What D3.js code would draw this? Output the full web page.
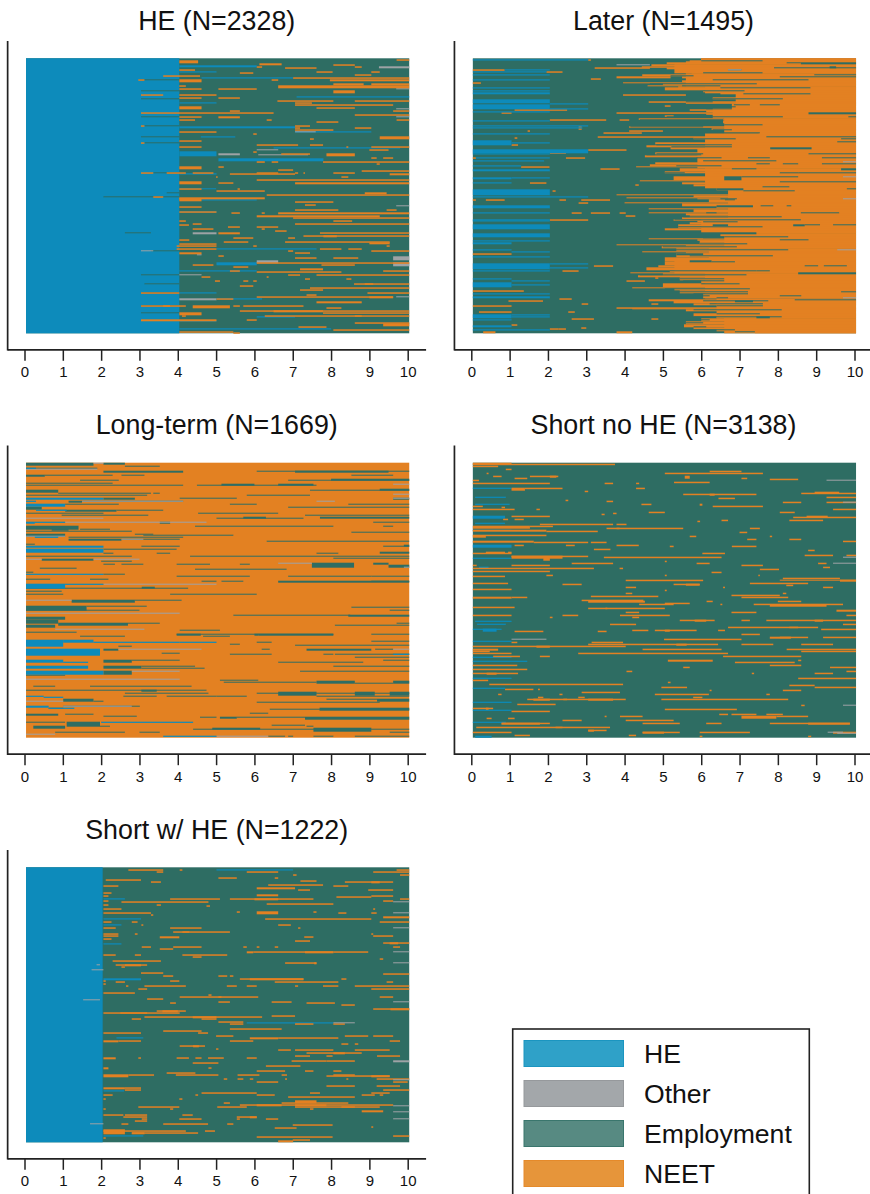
<!DOCTYPE html>
<html><head><meta charset="utf-8">
<script src="https://cdn.jsdelivr.net/npm/d3@7"></script>
<style>html,body{margin:0;padding:0;background:#fff}svg{display:block}text{font-family:"Liberation Sans",Arial,sans-serif;fill:#111}</style>
</head><body><svg id="c" width="870" height="1194"></svg>
<script>
const END = 10.04, START = 0.04;
const stateNames = ["HE","Other","Employment","NEET"];
const panelTitles = ["HE (N=2328)","Later (N=1495)","Long-term (N=1669)","Short no HE (N=3138)","Short w/ HE (N=1222)"];
const tickValues = [0,1,2,3,4,5,6,7,8,9,10];
const TOTAL_ROWS = 275;
// every spell: [row, from year, to year, rows spanned (optional)]

// ---------- HE ----------
const heBase = [[0,START,END,275,"Employment"],[0,START,4.04,275,"HE"]];
const heEmployment = [[21,3.0,4.04],[32,3.04,4.04],[40,3.04,4.04],[58,3.04,4.04],[67,3.13,4.04],[78,3.04,4.04],[84,3.13,4.04],[114,3.36,4.04],[134,3.71,4.04],[138,2.06,4.04],[174,2.62,3.3],[192,3.3,4.04],[216,3.04,4.04],[225,3.13,4.04],[234,3.04,4.04],[254,3.04,4.04],[247,3.04,4.04]];
const heHE = [[7,4.04,6.06,2],[13,4.04,5.01],[19,4.62,7.01],[38,7.1,10.04],[44,4.04,5.01],[68,4.04,7.06,2],[73,7.06,9.05],[93,4.04,5.01,5],[100,5.06,7.8,3],[115,4.04,5.01],[130,4.04,5,1],[141,4.62,6.06],[153,4.04,5.01],[190,5.01,7.62],[204,5.01,6.06,3],[212,4.04,6.06],[234,4.04,5.01],[240,5.01,6.2],[258,6.06,7.06],[262,4.04,5.01],[270,4.04,8],[89,6.5,9.8],[78,4.6,5.5]];
const heOther = [[8,9.25,10.04,2],[30,9.7,10.04],[50,9.7,10.04],[58,9.7,10.04],[91,6.06,6.62],[95,5.06,5.62,2],[96,6.1,7.4],[73,7.06,7.6],[147,9.7,10.04],[174,4.39,5.01,2],[192,3.04,3.36],[202,6.06,6.62,3],[198,9.62,10.04,4],[204,9.62,10.04,4],[216,4.04,4.62,1],[238,9.7,10.04],[240,4.04,5.01,2],[196,4.5,4.62]];
const heNeet = [[1,9.71,END],[2,4.04,4.53,3],[5,6.13,6.71,2],[6,8.06,8.62],[8,6.06,6.2],[8,8.62,8.8],[9,6.8,7.62],[11,4.04,4.45],[13,7.62,8.04],[13,9.05,9.27],[14,5.62,5.97],[16,8.62,9.05],[17,3.62,4.58],[19,7.01,END],[21,2.97,3.13],[21,4.04,4.62,3],[21,6.45,6.62],[21,7.97,END,2],[25,8.06,8.85,2],[25,9.05,END,2],[27,6.62,END,3],[27,4.04,4.21],[30,4.04,4.62],[30,5.06,6.06],[32,8.06,8.62,3],[36,3.04,3.62],[36,4.04,5.01],[39,4.04,4.62],[39,5.06,5.62],[42,6.6,8.06],[42,8.62,END],[44,7.06,7.5],[46,7.06,9.62],[48,4.04,4.62,3],[49,7.62,8.62],[52,5.36,5.62],[52,9.62,END],[54,3.04,6.5],[56,8.62,END],[58,4.04,4.62],[58,5.06,5.62,2],[61,4.04,4.45],[61,6.32,6.45],[61,9.71,END],[63,7.62,8.19],[67,3.04,3.13],[67,7.06,7.45],[69,7.06,7.19],[69,8.62,9.05],[71,7.06,8.06],[73,4.04,5.01],[75,5.97,6.06],[78,9.27,END,3],[80,7.45,7.55],[82,4.04,4.62],[84,3.04,3.13],[86,6.06,7.14],[86,7.45,7.79],[88,4.04,4.62],[88,8.4,8.45],[88,9.05,END],[91,9,9.5],[93,5.97,6.06],[95,6.7,7.45],[95,7.88,8.62,3],[99,9.05,9.19],[99,9.36,9.62],[103,6.06,6.27],[103,6.45,6.62],[103,7.79,END],[105,9.19,9.27],[108,4.04,4.62,3],[108,5.06,5.2],[111,6.62,7.01],[112,8.8,END],[114,3.04,3.36],[114,3.71,4.21],[114,4.39,4.93],[114,6.06,6.62],[114,7.06,7.14],[114,7.28,7.32],[114,8.06,8.62],[115,5.36,7.06],[115,9.53,END,2],[118,5,5.04],[118,8.27,8.45],[121,6.06,END],[123,4.04,4.62,3],[124,5.06,5.45],[124,7.06,END,2],[130,5.56,5.62],[130,4.04,4.62],[132,5.01,6.27],[134,8.88,9.45,2],[136,6.32,END],[138,3.36,3.62],[139,4.04,6.27,2],[140,4.04,4.62,3],[143,7.06,8.06],[146,7.32,7.6],[148,4.04,4.62],[151,7.06,8.19],[151,9.45,9.71],[153,4.04,5.01],[154,5.4,5.62],[154,6.19,6.27],[154,6.62,END,2],[157,6.06,9.27,2],[159,7.01,END],[162,4.04,4.21],[162,8.06,8.55],[165,7.06,END],[166,4.04,4.29],[165,4.39,4.62],[168,5.31,5.62],[168,6.06,6.62],[170,4.39,4.93],[170,6.19,6.27],[172,6.54,6.84],[174,5.06,5.62,2],[174,7.71,END],[177,7.28,END],[177,7.8,8.15,2],[179,5.45,5.97],[179,6.88,7.06],[181,4.04,4.3],[183,5.2,5.84],[183,6.8,9.53],[184,9.0,9.53,2],[185,4.04,5.01],[187,3.97,5.01],[187,5.97,6.06],[187,9.45,9.53],[190,3.97,5.01],[190,7.71,8.27],[190,8.45,8.8],[192,6.88,7.01],[192,9.05,END],[194,4.04,4.62,2],[194,7.06,7.45],[197,5.06,5.2],[199,7.06,7.62],[199,8.06,8.71],[204,6.06,END],[206,4.39,4.93],[206,7.75,8.62],[208,5.45,5.84],[210,7.19,7.79,2],[212,5.36,5.62],[212,9.36,END],[213,6.06,8.27],[216,6.88,7.19],[216,7.62,END],[218,4.62,4.85],[218,6.32,6.37],[220,7.32,7.45],[220,8.4,8.53],[222,4.97,5.1],[222,5.71,5.84],[222,5.97,6.06],[225,8.88,9.1],[225,8.6,END],[227,5.62,5.97],[229,7.45,END],[231,7.19,7.79],[234,3.04,4.04],[234,8.95,END],[236,7.36,7.62],[238,6.06,9.62],[238,9.0,9.62,2],[240,5.01,5.45],[243,7.62,8.8,2],[247,3.04,4.21],[247,3.62,3.8],[247,4.39,5.36,3],[247,5.45,5.62],[247,5.71,7.28],[249,7.88,8.27],[252,5.62,END],[252,6.5,7.79,2],[254,4.04,4.62,3],[254,7.79,END],[257,4.11,4.21],[257,6.27,END],[257,8.62,8.8],[261,3.04,5.01,2],[261,5.8,6.06],[264,8.62,END],[265,9.36,END,3],[268,7.15,7.88],[271,8.06,END],[273,4.04,5.45],[274,5.45,5.62]];

// ---------- Later ----------
const laterBase = [[0,START,END,275,"Employment"]];
const laterSolidNeet = [[0,6.0,END,3],[3,5.6,END,3],[6,5.3,END,9],[15,5.6,END,13],[28,6.1,END,7],[35,6.9,END,15],[50,6.3,END,10],[60,6.6,END,15],[75,6.1,END,15],[90,5.9,END,20],[110,6.1,END,20],[130,6.7,END,30],[160,6.0,END,15],[175,6.6,END,15],[190,6.2,END,10],[200,5.3,END,15],[215,6.1,END,25],[240,6.4,END,20],[260,6.6,END,15]];
const laterNeet = [[0,6.0,END,2],[1,3.05,3.12],[2,5.7,END,2],[4,5.1,END,2],[6,4.7,END,2],[8,4.45,END],[9,3.22,4.66],[9,5.1,END,2],[11,0.04,0.87],[11,5.5,END,3],[13,1.96,2.38],[15,5.75,END],[16,4.46,END,2],[18,3.79,5.2,2],[18,5.5,END,2],[20,3.12,3.38],[22,5.5,END,2],[24,0.04,0.25],[24,3.96,END,1],[25,5.0,END,2],[27,4.6,END,1],[28,5.4,END],[29,5.05,END,3],[32,6.05,END,2],[34,6.5,END,2],[36,3.96,5.6],[36,7.1,END,3],[39,6.3,END,2],[41,8.1,END,2],[43,1.17,1.4],[43,4.63,END],[44,5.6,END],[45,6.8,END,3],[47,5.05,5.2],[49,6.8,END,2],[51,1.13,2.5],[51,5.7,END],[52,6.13,END,2],[54,0.79,1.05],[54,3.79,END],[55,6.13,END],[57,5.05,5.28],[57,6.6,END,3],[60,4.37,END],[61,2.05,3.52],[61,3.87,4.12],[62,6.57,END,3],[66,7.6,END,2],[68,4.12,END],[68,2.8,2.88],[70,2.8,2.88],[70,6.27,END],[71,6.8,END],[72,1.47,1.53],[72,4.12,5],[74,3.45,4.45],[74,7.5,END,2],[76,7.5,END],[78,3.3,END],[79,1.13,1.2],[79,5.8,END,2],[81,6.85,END,3],[84,4.8,END,2],[86,1.05,1.22],[87,4.57,END,2],[89,5.2,END,2],[91,3.05,4.05],[91,7.8,END,3],[94,2.05,2.47],[94,4.8,END,3],[97,4.53,END,2],[99,2.47,2.97],[99,0.04,0.12],[99,6.0,END,3],[102,6.05,END,2],[104,4.8,END,2],[106,4.66,END,2],[108,1.3,2.04],[108,4.3,END,1],[110,3.37,3.87],[110,5.44,END,3],[113,5.05,END,2],[115,6.3,END,3],[118,5.28,END,4],[122,4.4,END,1],[124,1.53,1.96],[124,5.5,END,2],[126,4.28,4.37],[126,5.8,END,2],[128,6.4,END,4],[132,2.12,2.2],[132,7.1,END,4],[136,3.79,END,1],[137,5.8,END,2],[139,4.05,END,1],[140,5.9,END,1],[141,0.04,0.12],[141,0.38,0.87],[141,2.3,2.47],[141,2.87,3.62],[141,6.2,END,3],[144,2.8,3.05],[144,4.0,END,1],[145,5.5,END,3],[148,0.79,1.05],[148,6.4,END,2],[150,4.63,END,1],[151,5.8,END,3],[154,2.62,2.88],[154,3.12,3.62],[154,3.87,4.03],[154,4.63,7,1],[155,5.6,END,2],[157,4.03,4.28],[157,5.7,END,2],[159,5.5,END,2],[161,2.05,3.05],[161,5.28,END],[162,5.9,END,2],[164,5.7,END,2],[166,5.4,END,2],[168,5.4,END,2],[170,5.05,END,2],[172,6.18,END,3],[175,6.5,END,3],[178,6.6,END,2],[180,4.63,END,1],[181,5.9,END],[182,5.96,END,2],[184,5.96,END,2],[186,3.79,END,1],[187,5.6,END],[188,4.97,END,2],[190,5.35,END,3],[193,4.46,END,1],[194,5.6,END],[195,0.04,1.05],[195,5.35,END,4],[199,5.05,END,4],[203,5.05,END,4],[207,3.2,3.7],[207,4.88,END,2],[209,4.57,END,3],[212,2.38,2.8],[212,5.18,END,2],[214,4.15,END,1],[215,5.0,END,2],[217,4.35,END,2],[219,4.8,4.88],[219,5.44,END,3],[222,4.05,4.53],[222,6.0,END,3],[225,5.0,END,4],[229,4.2,END,1],[230,5.3,END,2],[232,0.04,1.37],[232,5.44,END,3],[235,6.05,END,5],[240,2.3,2.62],[241,4.63,END,2],[242,0.97,1.87],[242,5.28,END,3],[245,2.88,3.05],[245,4.7,4.88],[245,5.8,END,2],[247,0.04,1.05],[249,3.79,END],[250,4.2,END,1],[251,5.6,END,2],[253,2.53,2.7],[253,0.2,1.05],[255,5.8,END,3],[258,6.4,END,2],[260,2.62,3.2],[260,4.7,4.88],[260,6.0,END,3],[263,5.6,END,3],[266,1.05,1.2],[266,5.55,END,3],[269,2.87,3.0],[269,5.8,END,2],[270,2.05,2.28],[270,2.28,2.47],[271,6.4,END,2],[273,0.31,0.63,2],[273,3.79,4.2,2],[273,7.4,END,2]];
const laterEmployment = [[2,6.0,7.6],[4,8.6,END,2],[4,8.23,8.6],[8,9.35,9.52,2],[9,7.9,END],[11,6.7,7.05],[14,6.05,7.6],[16,8.95,END],[17,5.2,5.8],[18,8.05,END],[21,6.3,8.8],[25,4.66,7.45],[27,5.5,6.5],[29,6.5,8.85],[32,6.05,7.13],[35,7.1,8.85],[40,6.3,8.13],[43,5.6,6.3],[46,6.85,7.27],[46,7.53,8.05],[50,6.13,6.8],[54,8.8,END,2],[58,5.1,8.13],[58,9.84,END],[61,4.4,6.57,2],[66,6.6,7.6],[68,4.15,6.05],[71,6.3,6.8],[74,5.0,7.53],[78,7.7,END],[80,5.8,6.9],[80,9.65,END],[83,9.55,END],[86,4.83,6.8],[88,5.22,6.8],[89,7.8,8.88,2],[92,4.8,5.44],[95,4.83,6.05],[95,8.8,END],[96,4.57,6.0],[99,9.15,END],[99,5.88,6.53],[99,7.22,7.79],[102,6.05,7.96],[105,7.44,7.79],[105,8.13,8.53],[105,9.15,END],[107,5.35,6.53],[110,6.8,7.44],[110,9.65,END,2],[114,5.05,5.57],[114,8.05,8.53],[114,8.53,END],[116,5.27,5.96],[118,6.6,7.05,4],[118,7.05,8.53],[123,8.05,END],[128,7.6,8.3],[130,6.4,7.1,2],[130,9.8,END],[132,7.1,8.44],[140,6.5,6.93],[141,6.62,6.88],[147,6.4,7.35,2],[147,7.55,7.88],[147,8.23,8.35],[154,6.13,6.4],[154,8.6,9.6],[158,5.53,8.1],[161,5.3,8.6],[163,6.05,6.95],[166,8.4,8.7,2],[166,8.7,9.1],[166,9.44,END],[166,6.3,6.7,2],[168,5.4,7.6],[174,5.7,7.44,2],[178,6.05,6.6,2],[178,6.6,8.27],[181,8.05,8.8],[185,5.96,7.2],[188,5,6.93],[191,4.97,8.27],[195,5.35,6.05,2],[197,5.7,7.87],[202,5.7,6.27,2],[203,6.27,6.88],[207,8.7,9.05],[207,9.2,9.8],[212,5.18,7.44],[212,7.44,7.79],[214,8.53,END,2],[216,4.4,7.18],[220,5.44,6.6],[222,5.53,6.6],[225,6.0,7.0],[230,5.05,7.27],[233,5.35,7.22],[233,9.65,END],[235,5.8,7.22],[237,5.7,6.22],[237,8.05,8.61],[239,6.4,6.7],[241,8.44,9.65],[241,9.65,END],[242,6.88,7.35,2],[242,6.05,7.75],[245,6.22,7.61],[247,6.4,7.61],[251,5.8,8.1],[255,6.4,7.53],[258,5.8,8.1],[258,7.44,7.79,2],[261,5.6,6.22],[264,5.6,6.05],[268,5.8,6.13],[271,5.8,6.88],[273,6.88,7.4]];
const laterHE = [[1,0.04,3.05],[11,0.87,2.05],[13,0.04,1.96],[16,0.04,2.05],[21,0.04,2.05],[29,0.04,2.05],[32,0.04,2.05],[34,0.04,2.05,2],[41,0.04,2.05,4],[46,0.04,2.05,5],[45,2.05,3.05],[50,2.05,3.05],[53,0.04,2.05],[62,0.04,2.05],[67,0.04,3.05],[69,0.04,2.9],[75,0.04,2.05],[82,0.04,1.05,5],[84,1.05,2.05],[91,0.04,3.05,4],[95,0.04,2.05],[99,0.12,2.05],[102,0.04,1.9],[107,0.04,1.3],[111,0.04,2.05,2],[119,0.04,1.05,2],[119,1.05,2.05],[124,0.04,1.05],[131,0.04,2.05,6],[138,0.04,3.05],[147,0.04,2.05,3],[154,0.04,2.05],[161,0.04,2.05],[162,0.04,2.05],[166,0.04,2.05,5],[175,0.04,2.05,4],[182,0.04,2.05],[184,0.04,1.05,2],[191,0.04,1.05],[193,1.05,2.05],[198,0.04,2.05],[205,0.04,2.05,6],[205,2.05,3.05],[209,2.05,3.05],[212,0.04,2.05],[220,0.04,1.05],[224,0.04,1.05,5],[222,1.05,2.05],[226,1.05,2.05],[235,0.04,2.05],[238,0.04,2.05,2],[256,0.04,1.05,4],[256,1.05,2.05],[258,1.05,2.05],[261,0.04,1.05],[267,0.04,1.05,2],[271,0.04,2.05]];
const laterOther = [[6,3.79,4.66],[11,6.7,7.05],[103,9.7,END],[118,9.7,END],[140,9.7,END],[191,9.55,END],[239,9.7,END]];

// ---------- Long-term ----------
const longBase = [[0,START,END,275,"NEET"]];
const longEmployment = [[0,0.04,1.8,3],[0,2.06,2.62,2],[3,2.62,3.53],[5,0.04,1.9],[8,2.06,4.14,2],[8,6.06,10.04],[8,7.06,9.5,2],[12,0.04,0.53,2],[12,0.53,2.3],[12,2.53,3.13],[12,8.53,9.62],[17,1.45,2.46],[17,6.88,END],[16,8.0,END,2],[20,0.04,2.3],[22,0.04,4.14],[22,4.5,7.62],[21,5.14,6.0,2],[21,6.62,7.54,2],[27,0.04,0.88,3],[27,7.45,END],[26,9.27,END,2],[30,0.88,3.3],[30,3.36,3.53],[32,0.04,3.2],[32,5.8,7.45],[35,2.06,2.88,2],[35,4.05,5.54],[35,9.62,END,2],[38,1.15,1.5,2],[38,1.5,4.14],[41,1.06,2.46],[41,5.36,6.06],[41,8.45,END],[44,0.04,0.45,3],[44,6.88,END],[47,0.45,1.06],[47,1.06,2.4,2],[47,2.4,3.62],[50,0.04,2.06],[50,4.53,6.62],[52,0.97,3.23],[52,7.32,END],[55,5.01,7.28],[54,5.71,6.3,2],[54,7.71,END,2],[59,3.53,3.8,2],[59,9.1,END],[63,0.04,1.41,4],[63,4.45,8.06],[63,9.36,9.62],[66,0.71,1.15,2],[66,1.45,2.23],[68,0.04,2.8],[69,8.53,END],[71,0.04,1.06,3],[71,2.88,3.36],[72,3.1,5.45],[74,1.15,4.14],[76,1.15,2.53,2],[76,2.53,3.1],[76,3.1,4.05],[78,6.32,END],[81,0.04,0.27],[83,3.05,4.05],[83,9.36,END],[82,9.9,END,2],[86,2.06,3.97],[90,2.06,2.32],[90,3.45,3.8],[90,7.62,8.19],[89,9.27,END,2],[93,0.04,2.8],[93,4.32,END],[95,8.06,END],[96,0.45,1.8,2],[98,2.0,2.8],[101,2.06,2.36],[101,2.53,3.1],[101,3.97,4.84],[101,5.62,5.88],[100,7.5,8.6,5],[100,9.1,9.5,2],[102,9.5,END,3],[105,0.4,1.36],[106,4.45,6.84],[109,0.04,0.23],[111,2.06,2.62],[113,3.97,5.88],[113,6.88,9.05],[113,9.05,END],[116,0.04,0.67],[116,1.71,2.19],[118,4.62,5.01],[118,9.05,END],[118,6.62,END,2],[118,5.14,5.71],[123,0.04,0.71],[125,0.04,4.27],[124,3.06,3.4,2],[128,0.04,0.97],[131,0.04,1.01],[131,3.8,6.06],[137,1.23,2.88,3],[137,2.88,4.1],[143,0.04,1.62,5],[143,1.62,3.19],[144,8.53,END],[147,0.04,3.0],[147,9.53,END],[152,5.45,8.5],[152,8.45,END,2],[154,0.04,1.06,3],[157,0.04,0.88,4],[160,0.88,2.7,3],[160,2.7,3.53],[160,9.71,END],[162,8.1,END],[162,0.04,0.8,3],[169,0.04,1.36],[171,3.97,8.06],[171,3.97,4.6,2],[171,6.0,6.1,2],[171,6.1,8.06,2],[171,9.05,END],[167,4.05,5.1],[173,4.66,5.36],[173,1.45,2.62],[181,5.36,5.62],[179,6.06,6.45],[182,7.06,END],[178,9.05,END],[183,2.45,2.8],[186,2.06,2.45,2],[186,6.19,6.4],[186,7.36,9.05,2],[186,9.15,9.62],[191,5.36,6.45],[191,7.8,8.06],[191,8.1,END],[190,3.58,4.05],[194,8.62,END],[197,2.06,2.8,3],[197,2.8,4.05],[197,9.36,END],[199,6.62,8.84],[203,2.06,3.05,3],[203,3.05,4.45],[203,8.06,END],[205,3.05,4.7],[208,7.19,END],[208,2.06,2.8,4],[212,0.04,1.06],[217,5.1,6.1],[219,5.2,7.62],[218,7.62,8.62,3],[218,9.62,END,3],[220,8.62,9.62],[223,0.23,0.8],[223,1.71,4.36],[227,0.04,4.75],[227,3.05,3.45,2],[230,2.62,4.8],[230,6.06,END],[229,6.62,7.62,4],[229,8.62,9.14,4],[229,9.53,END,4],[233,2.58,3.45],[233,3.71,5.01],[233,5.01,5.8],[233,7.62,END],[236,1.01,1.8,3],[236,7.88,9.2],[236,9.2,END,3],[238,1.8,2.06],[239,6.06,9.27],[245,0.63,1.01],[243,1.01,3.01],[246,6.4,END],[245,7.7,END,3],[250,5.88,6.36],[251,0.04,0.88,2],[251,1.06,1.8],[253,2.06,2.93],[254,4.58,5.01],[254,5.1,5.54,2],[254,5.54,7.32],[254,7.32,END,3],[259,1.1,1.97,5],[259,0.04,1.06],[263,0.23,1.06,3],[263,1.97,2.23],[262,6.45,7.32],[263,7.36,7.54],[266,4.4,END],[265,4.9,6.15,2],[265,7.54,9.05,4],[269,0.8,2.62],[269,3.0,3.53],[269,9.53,END],[273,6.36,6.8],[273,6.88,7.01],[273,7.54,8.06],[273,8.62,END]];
const longHE = [[5,0.04,0.3],[35,0.04,2.06,2],[38,0.04,0.3],[41,0.04,1.06,3],[47,0.3,1.1],[59,0.04,0.27,2],[59,0.27,1.06],[74,0.27,0.88],[83,0.04,2.06,2],[86,0.04,2.06,4],[111,0.04,2.06],[121,0.04,1.06,5],[121,1.06,2.06],[177,0.04,1.01,7],[177,1.01,1.8,3],[179,1.8,4.05],[179,4.05,5.01],[186,0.04,1.97,7],[191,9.62,END],[197,0.04,1.01,3],[199,1.01,1.66],[203,0.04,1.66,3],[208,0.04,2.06,4],[233,0.04,0.5],[234,0.5,1.01],[243,0.04,0.63,2],[245,0.63,1.3],[259,2.0,4.4],[273,3.62,5.01]];
const longOther = [[0,1.8,2.06],[6,0.04,1.9],[35,9.62,END],[31,9.62,END,1],[21,9.62,END],[38,1.5,4.14],[38,7.62,8.1],[55,0.04,2.06],[59,1.06,4.75],[73,0.04,1.06],[76,2.53,3.1],[100,6.62,7.5],[96,0.04,0.45],[96,1.8,3],[104,9.9,END],[121,2.06,5.01],[137,0.04,1.23],[150,0.04,4.05],[166,0.8,3.13],[186,2.45,4.62],[186,9.62,END],[208,2.8,4.05],[216,0.04,4.05],[238,0.04,1.01],[243,1.01,2.8],[271,0.04,0.8],[273,5.01,6.36]];

// ---------- Short no HE ----------
const noheBase = [[0,START,END,275,"Employment"]];
const noheNeet = [[1,0.04,3.75],[0,0.04,1.05,2],[3,0.04,0.7],[6,0.9,1.05],[8,6.22,7.05],[10,5.05,7.61],[10,0.4,0.45],[13,0.57,0.79],[13,1.53,2.27],[13,2.05,2.22,2],[13,5.57,5.7,3],[15,1.13,1.46],[15,7.05,7.2],[16,7.79,8.53],[17,0.04,0.2],[19,5.29,6.22],[20,0.04,2.05],[20,3.48,3.7],[20,4.3,4.38],[25,1.05,1.4,3],[25,1.4,2.38],[25,4.3,4.53],[28,2.96,3.05],[29,8.96,9.6],[30,8.61,END],[31,5.53,7.44],[31,6.22,6.35,2],[34,9.27,END],[35,6.45,6.88],[37,2.46,2.53],[38,3.53,3.7],[39,8.13,8.61],[39,9.27,END],[41,4.44,4.7],[41,5.96,6.03,2],[43,0.04,0.3],[43,6.3,7.61],[44,0.79,0.88],[46,0.04,1.13],[46,1.7,1.79],[46,9.44,END],[49,4.63,5.05],[49,8.05,8.44],[50,3.7,3.79],[51,3.4,3.48],[53,1.05,2.05],[53,8.75,9.3],[54,8.4,END],[56,1.13,1.37],[56,0.83,0.96],[57,8.3,9.18],[57,6.53,6.7],[58,5.9,5.97],[61,1.79,3.7],[61,3.79,4.05],[63,0.04,1.53,3],[63,1.53,2.13],[65,3.53,5.53],[65,3.79,3.87],[65,7.27,7.53],[67,0.04,1.96,2],[68,1.96,3.3],[69,7.0,7.2],[72,0.04,1.96],[73,0.04,0.38,2],[73,5.7,5.87],[73,7.79,7.85],[76,7.2,7.44],[76,8.3,8.61],[78,0.04,1.63,2],[78,9.7,END],[79,1.63,3.05],[79,3.12,3.53],[82,2.47,2.7],[82,3.79,4.37],[82,1.13,1.37],[83,6.8,7.44],[83,5.18,5.28],[86,3.2,3.63],[87,8.79,8.96],[89,0.38,0.88],[89,0.96,1.05],[90,0.04,1.05],[90,6.03,6.62],[92,8.7,9.44],[92,9.79,END],[93,1.05,3.05],[93,1.05,2.38,3],[94,3.46,6.53],[95,1.88,2.05,3],[98,5.05,5.1],[100,2.62,3.7],[100,5.88,6.22],[100,9.05,9.27],[102,0.04,0.14],[102,1.05,2.05],[102,7.05,7.61],[104,9.18,9.36],[105,0.04,3.2],[105,3.87,3.96],[106,7.53,8.03],[108,0.04,2.05],[109,6.27,6.53],[112,1.96,2.13],[112,5.05,5.1],[112,7.49,7.53],[113,0.04,0.88],[115,8.13,9.62],[117,4.03,6.05],[117,8.05,END,1],[117,9.62,END,2],[120,0.04,0.96],[120,7.27,8.79],[121,2.38,2.88],[121,5.28,5.96],[121,5.6,5.96,2],[122,8.22,8.4],[124,4.03,4.3],[124,9.18,9.44],[124,6.57,6.62],[126,0.04,1.05],[127,5.05,5.1],[130,4.03,4.2],[130,8.13,8.22],[132,6.79,8.05],[133,3.12,4.88],[134,0.04,1.05,2],[134,1.05,1.46],[134,7.05,8.27],[137,2.88,4.49],[138,3.05,4.53,2],[138,6.14,6.3],[138,8.0,8.61],[140,5.05,5.7],[141,4.38,5.28],[141,6.5,6.55],[141,7.37,9.7],[142,7.79,9.27,2],[144,0.04,1.13],[145,3.05,5.05],[145,3.5,3.55],[147,9.53,END,2],[149,4.03,4.38],[149,6.79,7.44],[152,2.38,2.79],[152,3.88,5.18],[152,9.79,END],[152,0.04,1.05],[154,4.2,4.38],[154,2.05,2.12],[157,5.44,6.35],[157,5.83,6.13,2],[157,7.05,7.27],[157,7.7,END],[157,8.96,9.18,2],[161,3.62,4.3],[161,9.7,END],[164,6.7,9.05],[164,8.3,8.53],[166,9.13,END],[167,4.2,4.62],[167,4.79,5.88],[167,5.05,5.18,2],[167,6.44,6.62],[168,1.13,1.88],[168,3.3,3.53],[171,7.05,7.53],[174,8.05,8.79],[174,7.79,8.34,2],[174,9.18,END],[176,5.03,7.05],[179,1.05,1.2],[179,3.14,3.96],[181,3.05,6.44],[181,5.35,5.62,2],[181,7.05,7.88],[181,8.61,9.44],[183,0.04,4.03],[183,1.7,2.05,2],[186,0.04,0.7,2],[186,4.47,6.53],[186,8.23,END],[188,0.04,0.48],[188,8.61,END],[190,0.04,1.05],[190,2.79,6.7],[193,0.57,1.27],[193,1.79,2.05],[193,6.57,8.61],[197,5.13,6.3,2],[197,8.53,8.61],[199,6.88,8.44],[202,0.04,1.2],[202,7.79,8.61],[204,9.36,END],[204,5.53,5.7],[206,0.04,1.46],[208,4.05,4.2],[208,9.79,END],[210,0.04,1.22],[210,0.4,0.66,2],[210,7.32,7.38],[210,8.96,9.44],[215,8.53,END],[217,0.04,0.44],[219,5.13,5.2],[221,0.47,3.96],[222,8.3,8.96],[224,4.96,5.63],[224,8.96,END],[226,0.88,1.62],[226,1.74,1.79],[227,8.13,8.61],[227,6.22,6.27],[229,2.88,3.88],[231,0.7,0.79],[231,4.79,6.2],[231,2.3,2.38],[231,7.7,7.79],[234,1.74,1.88],[234,2.79,2.96],[234,5.79,6.03],[236,1.46,4.03],[236,1.62,2.05,2],[236,3.05,3.7,2],[236,4.96,8.27],[236,2.4,2.5],[241,1.2,2.2],[242,8.61,8.7],[245,0.04,0.57],[245,0.38,0.45,2],[246,5.05,6.93],[248,1.05,2.05],[251,6.47,6.7],[251,6.79,7.44],[251,7.7,8.13],[253,3.88,4.47],[253,7.05,7.96,3],[253,7.96,8.79],[253,3.48,3.53],[255,0.4,0.53],[255,0.96,1.13],[257,4.03,5.28],[257,2.38,2.88],[260,0.79,2.05],[260,0.79,1.79,2],[260,4.47,5.44],[260,6.13,6.53],[260,7.79,9.88],[260,8.79,9.88,2],[264,0.13,3.62],[264,2.2,2.38],[267,3.05,3.53],[267,3.05,3.2,2],[269,0.04,1.05],[269,4.47,5.44],[269,4.47,5.03,2],[269,5.96,7.27],[269,9.44,END,2],[272,1.13,1.53],[272,4.11,4.3],[273,5.96,6.03],[273,8.79,8.87]];
const noheHE = [[25,0.04,1.05],[34,0.1,0.9],[41,0.1,1.0],[53,0.04,0.88,3],[60,0.1,0.88],[67,0.04,1.05],[82,0.04,1.05,3],[95,0.04,1.05],[104,0.2,0.45,2],[158,0.1,1.05],[161,0.15,0.9],[166,0.04,0.79],[166,0.3,0.66,3],[178,0.04,1.05],[194,0.04,1.05],[198,0.04,1.46],[215,0.04,1.05],[225,0.04,0.88],[239,0.04,1.05],[247,0.04,1.05],[259,0.04,0.9],[273,0.1,0.53,2]];
const noheOther = [[17,9.27,END],[39,9.7,END],[94,9.7,END],[100,9.44,END],[176,1.05,1.96],[242,9.7,END],[269,9.3,9.7],[270,9.55,END]];

// ---------- Short w/ HE ----------
const swBase = [[0,START,END,275,"Employment"],[0,START,2.04,275,"HE"]];
const swNeet = [[2,2.71,3.62],[2,4.05,4.12],[2,9.71,END],[4,3.45,3.62],[4,5.8,6.62],[4,9.1,END],[7,9.8,END],[7,7.01,7.1],[10,5.06,5.54],[10,6.53,6.62],[12,2.12,3.04],[13,7.2,7.62],[14,3.3,3.56],[14,8.36,9.62],[14,9.05,9.27,2],[17,6.36,7.79],[18,2.06,2.45],[18,8.06,8.45],[20,6.06,7.06,2],[22,7.14,7.45],[22,8.97,9.62],[25,2.06,2.27],[27,6.06,6.62,2],[28,2.06,2.19],[28,9.05,9.62],[29,8.14,9.05],[31,3.8,5.1],[31,5.36,7.54],[31,6.0,6.62,2],[31,9.8,END],[33,2.06,2.19],[33,9.36,9.62],[34,2.53,4.8],[36,6.32,8.06],[37,3.45,3.56],[37,2.06,2.19],[38,4.75,4.84],[41,2.06,2.53],[41,9.1,9.15],[44,6.06,6.62,3],[44,5.54,5.62],[44,7.54,7.62],[45,2.06,3.3],[45,8.19,8.4],[45,9.05,9.19],[47,3.3,3.36],[49,9.36,END,2],[51,6.28,9.05],[54,2.06,2.27],[54,2.8,2.95],[54,9.27,END],[57,6.62,6.95],[57,3.05,3.1],[60,2.06,2.38],[60,3.8,4.62],[60,7.14,7.2],[64,4.12,5.36],[64,3.88,4.3],[66,2.06,2.45],[66,2.88,2.95],[66,9.05,9.1],[68,9.1,9.62],[68,2.06,2.45],[69,3.53,4.04,2],[69,7.3,7.54],[71,2.06,2.27],[73,7.06,7.45],[75,9.36,END],[75,9.53,9.75,2],[79,3.06,3.3],[79,3.88,4.62],[79,5.71,5.8],[79,6.06,6.13],[79,6.53,6.62],[79,9.62,9.8],[81,3.53,3.88],[84,5.8,5.97,2],[84,5.97,8.06],[84,7.32,8.06,2],[84,8.06,8.97],[87,2.06,2.38],[87,4.12,5.29],[87,2.88,3.04],[89,4.39,4.62],[91,9.27,9.36],[93,2.3,3.56],[95,6.8,7.62],[95,7.56,7.62,2],[97,2.38,3.2],[97,2.62,3.04,2],[99,2.53,2.62],[105,3.04,3.62],[106,9.36,END],[108,5.06,5.29],[108,5.36,5.45],[108,3.62,3.88],[111,5.62,7.28],[111,5.88,7.28,2],[111,8.27,8.4],[113,2.06,2.12],[113,3.8,4.04],[114,2.38,2.62],[114,6.53,8.19],[114,9.45,9.62],[116,2.06,2.12],[118,2.65,2.71],[118,3.13,4.21],[118,5.28,5.54],[118,5.8,6.06],[118,7.06,7.14],[118,7.79,8.19],[118,8.62,END],[121,2.97,3.2],[121,9.05,END],[125,2.06,2.88],[127,4.8,4.88],[129,4.05,6.1],[129,5.06,5.14],[129,9.27,9.62],[131,3.2,3.62],[134,5.06,5.36],[134,6.45,6.97],[135,7.36,8.1],[135,3.8,3.95],[137,8.27,8.62],[141,9.1,END],[141,9.55,END,2],[143,3.45,4.21],[143,3.6,4.0,2],[145,2.06,4.05],[145,2.5,3.2],[148,6.45,7.06],[149,3.13,6.2],[149,4.39,5.01,2],[151,2.8,3.04],[151,4.62,5.01],[154,5.06,5.71],[156,5.36,5.71],[156,7.06,7.54],[156,8.06,8.36],[161,5.36,6.71],[163,3.62,4.62],[165,2.06,3.04],[165,4.53,4.79],[168,8.36,8.97],[168,9.1,9.62],[168,5.0,5.45],[170,5.88,6.62,2],[170,6.62,8.19],[173,2.06,2.45,2],[173,2.45,3.04],[173,5.36,5.97],[173,9.53,9.8],[176,8.27,8.45],[176,8.62,8.71],[178,4.05,4.71],[178,4.4,4.55,2],[181,5.0,5.06],[182,6.62,6.95],[182,7.06,8.06],[182,8.62,9.53],[185,7.36,8.8],[185,8.06,8.36,2],[188,7.06,7.45],[188,7.88,8.04],[188,9.2,9.8],[190,2.06,2.38,2],[190,2.97,3.04],[190,3.97,4.29],[190,4.46,4.62],[190,4.79,5.2],[190,5.8,6.06],[193,6.97,7.88],[193,7.88,8.62],[195,4.39,5.06],[198,6.3,7.2],[200,2.06,2.19,2],[200,4.8,4.88],[203,6.06,6.8],[203,7.32,7.54],[203,8.06,8.27],[205,3.71,4.46],[207,2.06,2.71,3],[207,2.71,3.38],[207,3.95,5.06],[207,5.56,6.13],[207,6.71,6.85],[207,8.06,8.62],[208,7.88,9.53],[208,9.05,9.53,2],[211,5.2,5.29],[211,5.56,5.71],[211,5.88,5.97],[211,6.8,6.85],[211,8.4,8.45],[211,9.19,END],[214,6.06,6.62],[214,9.62,10],[218,7.88,8.62],[218,9.19,9.8],[220,2.06,2.62,2],[220,2.62,3.04],[222,2.62,3.04],[222,9.36,END],[225,4.62,6.06],[225,7.45,7.71],[225,9.05,9.53],[227,2.06,2.3],[227,4.46,4.53],[227,6.06,6.53],[227,8.8,9.14],[227,9.27,9.36],[229,6.88,8.62],[231,2.06,2.12],[231,4.04,4.12],[233,7.06,7.62,3],[235,5.2,5.36],[235,6.71,8.45],[237,5.62,9.62],[237,6.06,6.71,2],[237,7.06,7.88,2],[239,2.97,4.04],[239,5.03,5.8],[239,8.27,8.62],[239,7.06,9.27],[241,2.06,2.12],[241,3.8,3.88],[241,7.45,7.54],[243,8.8,9.36,2],[247,2.06,2.58],[247,2.62,3.2],[247,4.12,4.39],[249,2.58,3.2],[249,5.54,6.06],[249,5.88,6.06,2],[251,3.06,3.2],[251,4.04,4.62],[251,5.54,5.62],[251,6.3,6.62],[253,2.88,3.2],[256,2.53,2.71],[256,3.62,4.79],[256,5.29,5.45],[257,7.0,8.04],[259,9.05,9.1],[260,6.53,7.1],[263,2.06,4.21],[262,2.06,2.62,5],[263,4.71,4.97],[265,2.8,4.53],[265,2.8,3.13,2],[268,9.62,END],[269,6.06,8.04],[270,2.06,2.12],[272,7.0,7.45],[273,6.62,7.01,2]];
const swHE = [[2,5.01,7.01],[31,2.06,2.62],[51,2.06,3.04],[57,2.06,2.53],[76,2.06,2.53],[111,2.06,3.04,2],[155,5.8,8.06],[170,2.4,3.1],[223,2.06,2.6],[268,2.06,3.1]];
const swOther = [[34,9.62,END],[45,9.62,END],[60,9.62,END],[84,9.62,END],[95,9.62,END],[134,9.62,END],[155,8.06,8.62],[193,9.62,END,2],[238,9.62,END],[244,9.62,END],[251,9.62,END],[256,1.71,2.06],[102,1.75,2.06],[97,1.88,1.97],[212,9.62,END],[132,1.53,1.97]];

const panelSpells = [
  {base:heBase, layers:[["Employment",heEmployment],["HE",heHE],["Other",heOther],["NEET",heNeet]]},
  {base:laterBase, layers:[["NEET",laterSolidNeet],["NEET",laterNeet],["Employment",laterEmployment],["HE",laterHE],["Other",laterOther]]},
  {base:longBase, layers:[["Employment",longEmployment],["Other",longOther],["HE",longHE]]},
  {base:noheBase, layers:[["HE",noheHE],["NEET",noheNeet],["Other",noheOther]]},
  {base:swBase, layers:[["HE",swHE],["NEET",swNeet],["Other",swOther]]}
];

const colors = {HE:"#0b8bbb",Other:"#9ea3a5",Employment:"#2f6d64",NEET:"#e38122"};
const thinRow = {HE:1.2,Other:1,Employment:1,NEET:1.5};
const legendColors = {HE:"#2fa1c8",Other:"#a3a7aa",Employment:"#578a82",NEET:"#e6953a"};
const legendEdges = {HE:"#1b95c0",Other:"#96999c",Employment:"#3a766d",NEET:"#e58a2a"};
const layout = [
  {x0:24.5,top:58.3},{x0:471.3,top:58.3},
  {x0:24.5,top:462.7},{x0:471.3,top:462.7},
  {x0:24.5,top:867.3}
];

const svg = d3.select("#c");
const defs = svg.append("defs");
defs.append("filter").attr("id","soft").attr("x","-2%").attr("y","-2%").attr("width","104%").attr("height","104%")
  .append("feGaussianBlur").attr("stdDeviation",0.3);

panelTitles.forEach((title,i)=>{
  const L = layout[i], P = panelSpells[i];
  const x = d3.scaleLinear().domain([0,10]).range([L.x0,L.x0+383.2]);
  const y = d3.scaleLinear().domain([0,TOTAL_ROWS]).range([L.top,L.top+TOTAL_ROWS]);
  const g = svg.append("g");
  const rows = g.append("g").attr("filter","url(#soft)");
  rows.selectAll("rect.base").data(P.base).join("rect").attr("class","base")
    .attr("x",d=>x(d[1])).attr("width",d=>x(d[2])-x(d[1]))
    .attr("y",d=>y(d[0])).attr("height",d=>y(d[3])-y(0))
    .attr("fill",d=>colors[d[4]]);
  P.layers.forEach(([state,spells])=>{
    rows.append("g").selectAll("rect").data(spells).join("rect")
      .attr("x",d=>x(d[1])).attr("width",d=>Math.max(0,x(d[2])-x(d[1])))
      .attr("y",d=>y(d[0])).attr("height",d=>(y(d[3]?d[3]:thinRow[state])-y(0)))
      .attr("fill",colors[state]);
  });
  const axisY = y(TOTAL_ROWS)+16.5;
  const ax = g.append("g").attr("transform",`translate(0,${axisY})`)
    .call(d3.axisBottom(x).tickValues(tickValues).tickFormat(d3.format("d")).tickSize(11).tickPadding(6));
  ax.select(".domain").remove();
  ax.selectAll(".tick line").attr("stroke","#222").attr("stroke-width",1.5);
  ax.selectAll("text").attr("font-size",15).attr("font-family","Liberation Sans").attr("fill","#222");
  g.append("line").attr("x1",x(-0.44)).attr("x2",x(10.48)).attr("y1",axisY).attr("y2",axisY).attr("stroke","#222").attr("stroke-width",1.7);
  g.append("line").attr("x1",x(-0.44)).attr("x2",x(-0.44)).attr("y1",L.top-17.3).attr("y2",axisY+0.8).attr("stroke","#222").attr("stroke-width",1.7);
  g.append("text").attr("x",x(5)+0.6).attr("y",L.top-28.6).attr("text-anchor","middle").attr("font-size",26.8).text(title);
});

// legend
const legendRow = d3.scaleBand().domain(stateNames).range([1034,1194]);
const legend = svg.append("g");
legend.append("rect").attr("x",512.7).attr("y",1029).attr("width",296.6).attr("height",200).attr("fill","#fff").attr("stroke","#222").attr("stroke-width",1.6);
stateNames.forEach(s=>{
  const yy = legendRow(s);
  legend.append("rect").attr("x",524).attr("y",yy+6.5).attr("width",99.5).attr("height",26).attr("fill",legendColors[s]).attr("stroke",legendEdges[s]).attr("stroke-width",1);
  legend.append("text").attr("x",644).attr("y",yy+29).attr("font-size",26.6).text(s);
});
</script></body></html>
